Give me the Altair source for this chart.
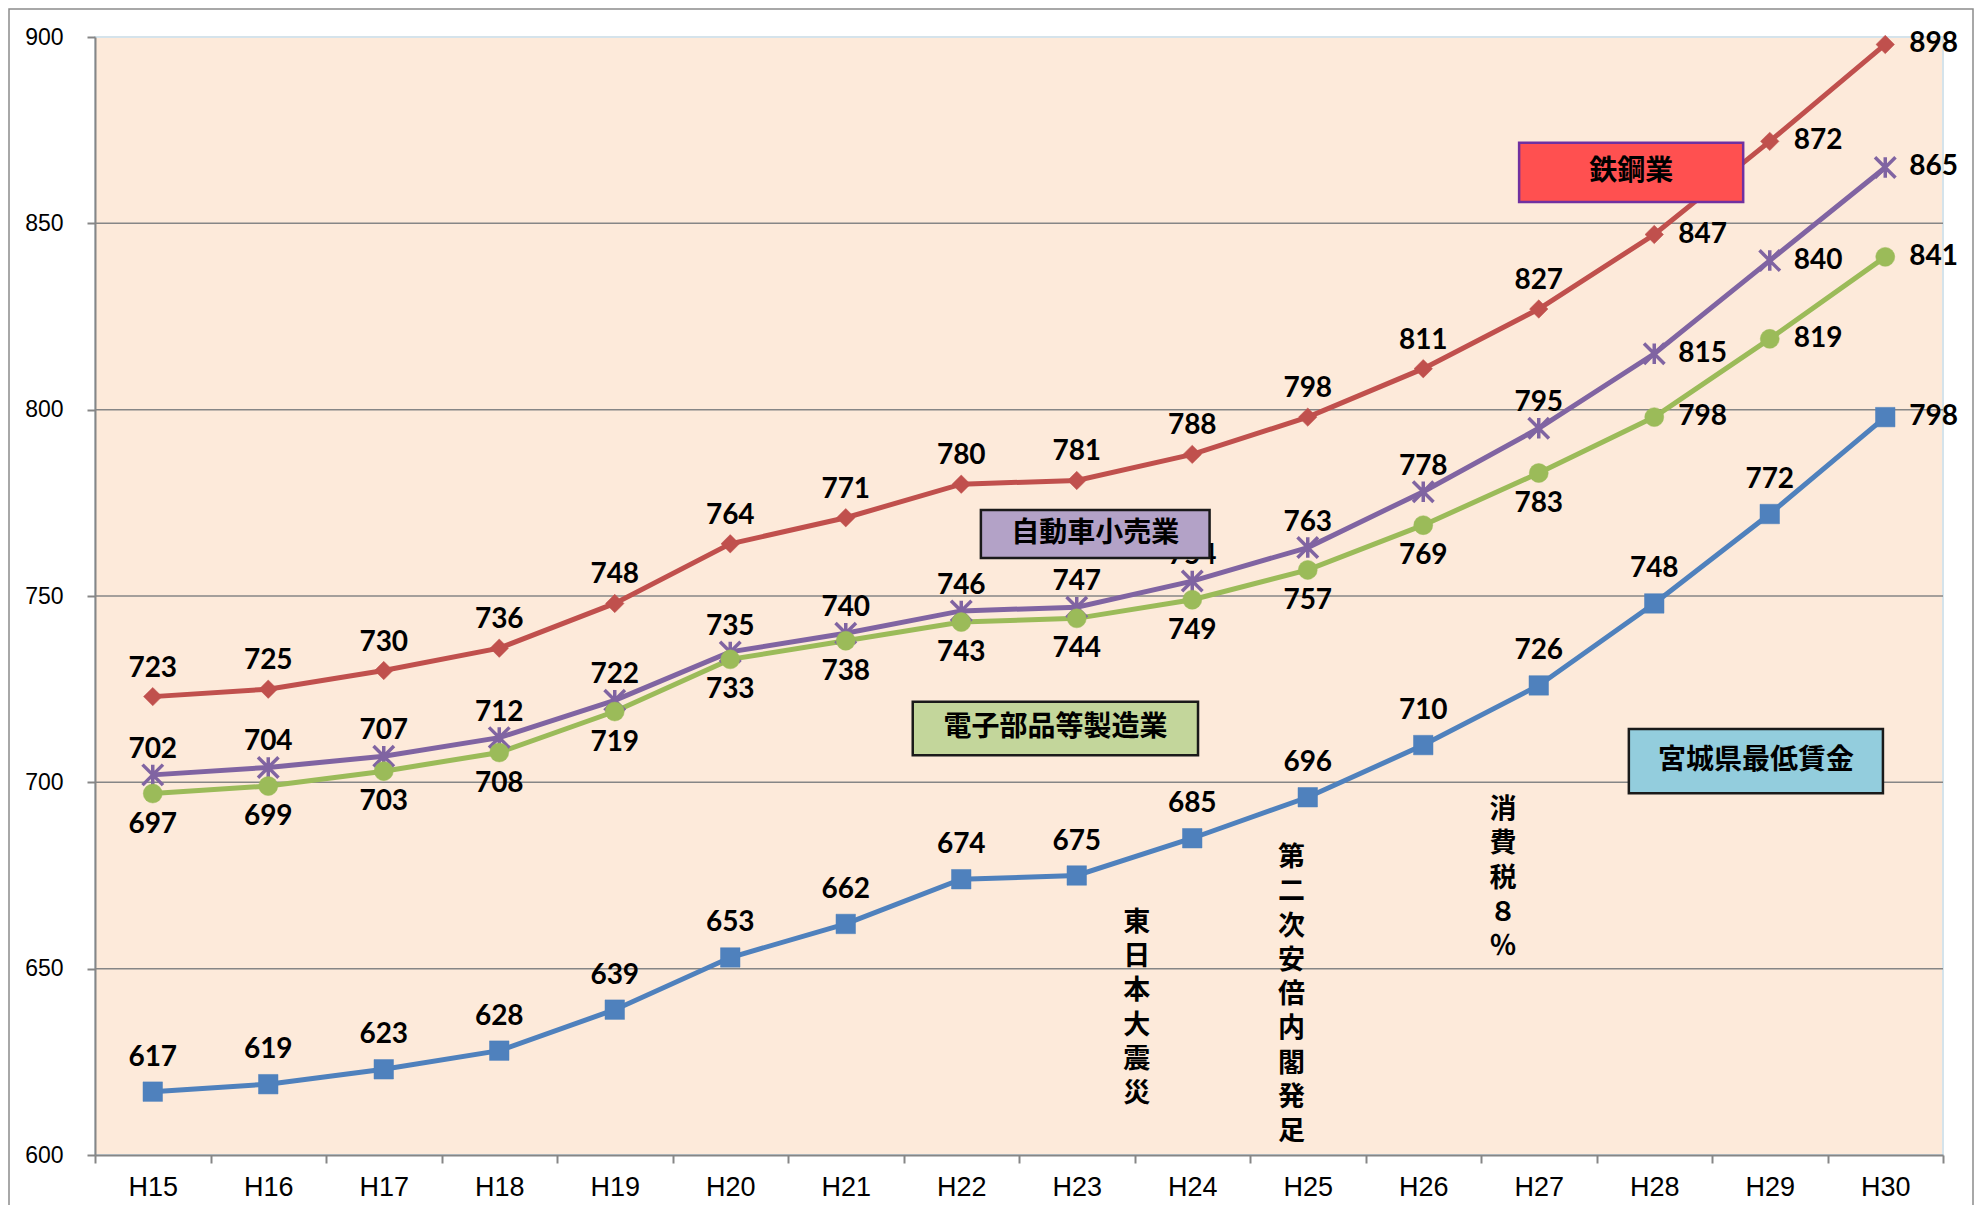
import json
import altair as alt
import pandas as pd

# ---------------- data ----------------
years = ["H15", "H16", "H17", "H18", "H19", "H20", "H21", "H22",
         "H23", "H24", "H25", "H26", "H27", "H28", "H29", "H30"]

series_names = ["宮城県最低賃金", "鉄鋼業", "自動車小売業", "電子部品等製造業"]
minimum_wage = [617, 619, 623, 628, 639, 653, 662, 674, 675, 685, 696, 710, 726, 748, 772, 798]
steel = [723, 725, 730, 736, 748, 764, 771, 780, 781, 788, 798, 811, 827, 847, 872, 898]
auto_retail = [702, 704, 707, 712, 722, 735, 740, 746, 747, 754, 763, 778, 795, 815, 840, 865]
electronics = [697, 699, 703, 708, 719, 733, 738, 743, 744, 749, 757, 769, 783, 798, 819, 841]

# where each data label sits relative to its point
pos_wage = ["above"] * 15 + ["right"]
pos_steel = ["above"] * 13 + ["right"] * 3
pos_auto = ["above"] * 13 + ["right"] * 3
pos_elec = ["below"] * 13 + ["right"] * 3

y_ticks = [600, 650, 700, 750, 800, 850, 900]
grid_values = [650, 700, 750, 800, 850]

# text boxes (x in category index units, y in value units)
box_labels = ["鉄鋼業", "自動車小売業", "電子部品等製造業", "宮城県最低賃金"]
box_x1 = [11.83, 7.17, 6.58, 12.78]
box_x2 = [13.77, 9.15, 9.05, 14.98]
box_y1 = [871.6, 773.1, 721.6, 714.3]
box_y2 = [855.7, 760.2, 707.3, 697.1]
box_fill = ["#FF5050", "#B3A2C7", "#C3D69B", "#93CDDD"]
box_stroke = ["#7030A0", "#1A1A1A", "#1A1A1A", "#1A1A1A"]

# vertical event notes (y = centre of the first character)
event_text = ["東日本大震災", "第二次安倍内閣発足", "消費税８％"]
event_x = [8.52, 9.86, 11.69]
event_y = [662.3, 679.7, 692.6]

# ---------------- styling ----------------
colors = ["#4F81BD", "#C0504D", "#8064A2", "#9BBB59"]
shapes = ["square", "diamond", "M-1,-1L1,1M-1,1L1,-1M0,-1L0,1", "circle"]
sizes = [380, 340, 420, 360]
above_dy = [-34, -28, -25, -31]
below_dy = [31, 31, 31, 31]

values_list = [minimum_wage, steel, auto_retail, electronics]
pos_list = [pos_wage, pos_steel, pos_auto, pos_elec]

rows = []
for s, vals, poss in zip(series_names, values_list, pos_list):
    for i, (y, v, p) in enumerate(zip(years, vals, poss)):
        rows.append({"year": y, "idx": i, "value": v, "series": s, "pos": p})
df = pd.DataFrame(rows)

W, H = 1848, 1118
n = len(years)
x_scale = alt.Scale(domain=[-0.5, n - 0.5], nice=False, zero=False)
y_scale = alt.Scale(domain=[600, 900], nice=False, zero=False)

label_expr = json.dumps(years) + "[datum.value + 0.5] || ''"

x_enc = alt.X(
    "idx:Q",
    scale=x_scale,
    axis=alt.Axis(
        values=[i - 0.5 for i in range(n + 1)], labelExpr=label_expr,
        labelOffset=W / n / 2, labelAngle=0, labelBound=False, labelFlush=False,
        labelOverlap=False, labelFont="Liberation Sans", labelFontSize=27,
        labelColor="#000000", labelPadding=11, tickSize=8, tickColor="#868686",
        tickWidth=2, domainColor="#868686", domainWidth=2, grid=False, title=None,
    ),
)
y_enc = alt.Y(
    "value:Q",
    scale=y_scale,
    axis=alt.Axis(
        values=y_ticks, labelFont="Liberation Sans", labelFontSize=23,
        labelColor="#000000", labelPadding=24, tickSize=8, tickColor="#868686",
        tickWidth=2, domainColor="#868686", domainWidth=2, grid=False, title=None,
    ),
)

grid = alt.Chart(pd.DataFrame({"g": grid_values})).mark_rule(
    color="#868686", strokeWidth=1.5
).encode(y=alt.Y("g:Q", scale=y_scale))

base = alt.Chart(df).encode(x=x_enc, y=y_enc)

layers = [grid]
for i, s in enumerate(series_names):
    b = base.transform_filter(alt.datum.series == s)
    layers.append(b.mark_line(color=colors[i], strokeWidth=5))
for i, s in enumerate(series_names):
    b = base.transform_filter(alt.datum.series == s)
    if i == 2:
        pt = b.mark_point(shape=shapes[i], size=sizes[i], filled=False,
                          stroke=colors[i], strokeWidth=3.5, opacity=1)
    else:
        pt = b.mark_point(shape=shapes[i], size=sizes[i], filled=True,
                          fill=colors[i], stroke=colors[i], strokeWidth=0.5, opacity=1)
    layers.append(pt)

text_style = dict(font="Lato", fontWeight="bold", fontSize=28, color="#000000")
for i, s in enumerate(series_names):
    b = base.transform_filter(alt.datum.series == s)
    layers.append(b.transform_filter(alt.datum.pos == "above").mark_text(
        align="center", baseline="middle", dy=above_dy[i], **text_style).encode(text="value:Q"))
    layers.append(b.transform_filter(alt.datum.pos == "below").mark_text(
        align="center", baseline="middle", dy=below_dy[i], **text_style).encode(text="value:Q"))
    layers.append(b.transform_filter(alt.datum.pos == "right").mark_text(
        align="left", baseline="middle", dx=24, **text_style).encode(text="value:Q"))

# ---------------- annotations ----------------
boxes = pd.DataFrame({
    "label": box_labels, "x1": box_x1, "x2": box_x2, "y1": box_y1, "y2": box_y2,
    "fill": box_fill, "stroke": box_stroke,
})
boxes["xc"] = (boxes["x1"] + boxes["x2"]) / 2
boxes["yc"] = (boxes["y1"] + boxes["y2"]) / 2

box_rects = alt.Chart(boxes).mark_rect(strokeWidth=2.5).encode(
    x=alt.X("x1:Q", scale=x_scale),
    x2="x2:Q",
    y=alt.Y("y1:Q", scale=y_scale),
    y2="y2:Q",
    fill=alt.Fill("fill:N", scale=None),
    stroke=alt.Stroke("stroke:N", scale=None),
)
box_texts = alt.Chart(boxes).mark_text(
    font="Noto Sans CJK JP", fontWeight="bold", fontSize=28, color="#000000",
    align="center", baseline="middle",
).encode(
    x=alt.X("xc:Q", scale=x_scale),
    y=alt.Y("yc:Q", scale=y_scale),
    text="label:N",
)

events = pd.DataFrame({
    "text": ["\n".join(list(t)) for t in event_text],
    "x": event_x, "y": event_y,
})
event_texts = alt.Chart(events).mark_text(
    font="Noto Sans CJK JP", fontWeight="bold", fontSize=27, color="#000000",
    align="center", baseline="middle", lineBreak="\n", lineHeight=34.3,
).encode(
    x=alt.X("x:Q", scale=x_scale),
    y=alt.Y("y:Q", scale=y_scale),
    text="text:N",
)

frame = alt.Chart(pd.DataFrame({"k": [0]})).mark_rect(
    filled=False, stroke="#8C8C8C", strokeWidth=1.5
).encode(
    x=alt.value(-86), x2=alt.value(1878), y=alt.value(-28), y2=alt.value(1300),
)

layers += [box_rects, box_texts, event_texts, frame]

chart = alt.layer(*layers).properties(
    width=W,
    height=H,
    autosize=alt.AutoSizeParams(type="none"),
    padding={"left": 87, "top": 29, "right": 32, "bottom": 50},
    background="#FFFFFF",
).configure_view(fill="#FDEADA", stroke="#D5E3EB", strokeWidth=2)

chart.save("out.html", embed_options={"renderer": "svg", "actions": False})
